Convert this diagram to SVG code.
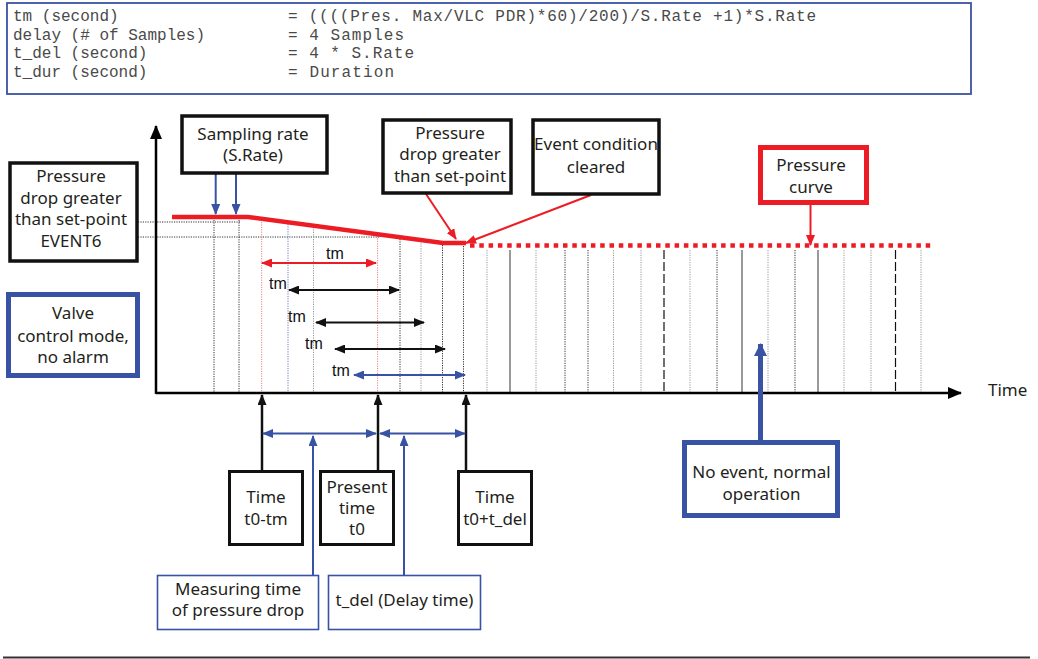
<svg xmlns="http://www.w3.org/2000/svg" width="1038" height="659" viewBox="0 0 1038 659">
<style>
.mono{font-family:"Liberation Mono","Courier New",monospace;font-size:16px;fill:#4a4a4a}
.lbl{font-family:"Noto Sans","Open Sans",sans-serif;font-size:17px;fill:#231f20;text-anchor:middle}
.tm{font-family:"Liberation Sans",Arial,sans-serif;font-size:16px;fill:#111;text-anchor:middle}
.bk{fill:#fff;stroke:#111;stroke-width:3.5}
.bk3{fill:#fff;stroke:#111;stroke-width:3}
.bl5{fill:#fff;stroke:#3953a4;stroke-width:5}
.bl1{fill:#fff;stroke:#3953a4;stroke-width:1.6}
.rd5{fill:#fff;stroke:#ed1c24;stroke-width:5}
.gd{stroke:#999;stroke-width:1;stroke-dasharray:1.2,1.2;fill:none}
.dd{stroke:#333;stroke-width:1;stroke-dasharray:1.2,1.2;fill:none}
.ds{stroke:#555;stroke-width:1.2;fill:none}
.dk{stroke:#111;stroke-width:1.2;stroke-dasharray:9,3;fill:none}
.pk{stroke:#f08080;stroke-width:1;stroke-dasharray:1.2,1.2;fill:none}
.bd{stroke:#6a7cc4;stroke-width:1;stroke-dasharray:1.2,1.2;fill:none}
</style>
<defs>
<marker id="ak" markerUnits="userSpaceOnUse" markerWidth="11" markerHeight="9" refX="10" refY="4.5" orient="auto-start-reverse"><path d="M0,0 L11,4.5 L0,9 z" fill="#111"/></marker>
<marker id="ar" markerUnits="userSpaceOnUse" markerWidth="11" markerHeight="9" refX="10" refY="4.5" orient="auto-start-reverse"><path d="M0,0 L11,4.5 L0,9 z" fill="#ed1c24"/></marker>
<marker id="ab" markerUnits="userSpaceOnUse" markerWidth="11" markerHeight="9" refX="10" refY="4.5" orient="auto-start-reverse"><path d="M0,0 L11,4.5 L0,9 z" fill="#3953a4"/></marker>
<marker id="abB" markerUnits="userSpaceOnUse" markerWidth="13" markerHeight="13" refX="12" refY="6.5" orient="auto"><path d="M0,0 L13,6.5 L0,13 z" fill="#3953a4"/></marker>
<marker id="ax" markerUnits="userSpaceOnUse" markerWidth="14" markerHeight="12" refX="13" refY="6" orient="auto"><path d="M0,0 L14,6 L0,12 z" fill="#000"/></marker>
</defs>

<g id="formula">
<rect x="7" y="3" width="964" height="91" fill="#fff" stroke="#3953a4" stroke-width="1.8"/>
<text class="mono" x="13" y="21">tm (second)</text>
<text class="mono" x="288" y="21" textLength="528" lengthAdjust="spacing">= ((((Pres. Max/VLC PDR)*60)/200)/S.Rate +1)*S.Rate</text>
<text class="mono" x="13" y="39.5">delay (# of Samples)</text>
<text class="mono" x="288" y="39.5" textLength="116" lengthAdjust="spacing">= 4 Samples</text>
<text class="mono" x="13" y="58">t_del (second)</text>
<text class="mono" x="288" y="58" textLength="126" lengthAdjust="spacing">= 4 * S.Rate</text>
<text class="mono" x="13" y="76.5">t_dur (second)</text>
<text class="mono" x="288" y="76.5" textLength="106" lengthAdjust="spacing">= Duration</text>
</g>

<g id="grid">
<line class="dd" x1="138" y1="222" x2="240" y2="222"/>
<line class="dd" x1="138" y1="237" x2="380" y2="237"/>
<line class="dd" x1="214" y1="220" x2="214" y2="392"/>
<line class="dd" x1="239" y1="220" x2="239" y2="392"/>
<line class="pk" x1="261.7" y1="222" x2="261.7" y2="392"/>
<line class="bd" x1="288" y1="224" x2="288" y2="392"/>
<line class="gd" x1="313.5" y1="227" x2="313.5" y2="392"/>
<line class="pk" x1="377.6" y1="236" x2="377.6" y2="392"/>
<line class="dd" x1="400" y1="239" x2="400" y2="392"/>
<line class="gd" x1="421" y1="241" x2="421" y2="392"/>
<line class="dd" x1="442.5" y1="245" x2="442.5" y2="392"/>
<line class="dd" x1="463.5" y1="246" x2="463.5" y2="392"/>
<line class="gd" x1="487" y1="250" x2="487" y2="392"/>
<line class="ds" x1="510" y1="250" x2="510" y2="392"/>
<line class="gd" x1="536" y1="250" x2="536" y2="392"/>
<line class="dd" x1="565" y1="250" x2="565" y2="392"/>
<line class="dd" x1="588" y1="250" x2="588" y2="392"/>
<line class="gd" x1="613.5" y1="250" x2="613.5" y2="392"/>
<line class="gd" x1="641" y1="250" x2="641" y2="392"/>
<line class="dk" x1="664" y1="250" x2="664" y2="392"/>
<line class="gd" x1="690" y1="250" x2="690" y2="392"/>
<line class="dd" x1="717" y1="250" x2="717" y2="392"/>
<line class="ds" x1="742" y1="250" x2="742" y2="392"/>
<line class="gd" x1="768" y1="250" x2="768" y2="392"/>
<line class="dd" x1="795" y1="250" x2="795" y2="392"/>
<line class="ds" x1="818" y1="250" x2="818" y2="392"/>
<line class="gd" x1="844" y1="250" x2="844" y2="392"/>
<line class="gd" x1="871" y1="250" x2="871" y2="392"/>
<line class="dk" x1="895.5" y1="250" x2="895.5" y2="392"/>
<line class="gd" x1="921" y1="250" x2="921" y2="392"/>
</g>

<g id="axes">
<line x1="156" y1="393" x2="961" y2="393" stroke="#000" stroke-width="2.5" marker-end="url(#ax)"/>
<line x1="156" y1="394" x2="156" y2="126" stroke="#000" stroke-width="2.5" marker-end="url(#ax)"/>
<text x="988" y="396" style="font-family:'Noto Sans','Open Sans',sans-serif;font-size:17px;fill:#231f20">Time</text>
</g>

<g id="pressure-curve">
<polyline points="172,217 248,217 443,243 466,243" fill="none" stroke="#ed1c24" stroke-width="4.5"/>
<line x1="470" y1="245.5" x2="934" y2="245.5" stroke="#ed1c24" stroke-width="4.5" stroke-dasharray="4.5,4.8"/>
</g>

<g id="connectors">
<line x1="215.7" y1="174" x2="215.7" y2="214" stroke="#3953a4" stroke-width="2" marker-end="url(#ab)"/>
<line x1="236" y1="174" x2="236" y2="214" stroke="#3953a4" stroke-width="2" marker-end="url(#ab)"/>
<line x1="426" y1="194" x2="456" y2="239" stroke="#ed1c24" stroke-width="2" marker-end="url(#ar)"/>
<line x1="591" y1="195" x2="466" y2="243" stroke="#ed1c24" stroke-width="2" marker-end="url(#ar)"/>
<line x1="810.5" y1="205" x2="810.5" y2="245" stroke="#ed1c24" stroke-width="2" marker-end="url(#ar)"/>
<line x1="760.5" y1="440" x2="760.5" y2="344" stroke="#3953a4" stroke-width="5" marker-end="url(#abB)"/>
<line x1="262" y1="263" x2="376" y2="263" stroke="#ed1c24" stroke-width="2" marker-start="url(#ar)" marker-end="url(#ar)"/>
<line x1="289" y1="290" x2="399" y2="290" stroke="#111" stroke-width="2" marker-start="url(#ak)" marker-end="url(#ak)"/>
<line x1="316" y1="322.5" x2="424" y2="322.5" stroke="#111" stroke-width="2" marker-start="url(#ak)" marker-end="url(#ak)"/>
<line x1="335" y1="349" x2="445" y2="349" stroke="#111" stroke-width="2" marker-start="url(#ak)" marker-end="url(#ak)"/>
<line x1="354" y1="375" x2="465" y2="375" stroke="#3953a4" stroke-width="2" marker-start="url(#ab)" marker-end="url(#ab)"/>
<line x1="262" y1="470" x2="262" y2="395" stroke="#111" stroke-width="2.5" marker-end="url(#ak)"/>
<line x1="378" y1="470" x2="378" y2="395" stroke="#111" stroke-width="2.5" marker-end="url(#ak)"/>
<line x1="466" y1="470" x2="466" y2="395" stroke="#111" stroke-width="2.5" marker-end="url(#ak)"/>
<line x1="263" y1="433.5" x2="376" y2="433.5" stroke="#3953a4" stroke-width="2" marker-start="url(#ab)" marker-end="url(#ab)"/>
<line x1="380" y1="433.5" x2="465" y2="433.5" stroke="#3953a4" stroke-width="2" marker-start="url(#ab)" marker-end="url(#ab)"/>
<line x1="313" y1="575" x2="313" y2="436" stroke="#3953a4" stroke-width="2" marker-end="url(#ab)"/>
<line x1="404" y1="575" x2="404" y2="436" stroke="#3953a4" stroke-width="2" marker-end="url(#ab)"/>
</g>

<g id="tm-labels">
<text class="tm" x="335" y="259">tm</text>
<text class="tm" x="278" y="289">tm</text>
<text class="tm" x="297" y="322">tm</text>
<text class="tm" x="314" y="349">tm</text>
<text class="tm" x="341" y="376">tm</text>
</g>

<g id="node-event6">
<rect class="bk" x="10" y="163" width="127" height="98"/>
<text class="lbl" x="71" y="182">Pressure</text>
<text class="lbl" x="71" y="203.5">drop greater</text>
<text class="lbl" x="71" y="225">than set-point</text>
<text class="lbl" x="71" y="246.5">EVENT6</text>
</g>
<g id="node-sampling">
<rect class="bk" x="182" y="116" width="145" height="57"/>
<text class="lbl" x="253" y="139.5">Sampling rate</text>
<text class="lbl" x="253" y="160.5">(S.Rate)</text>
</g>
<g id="node-pressure-drop">
<rect class="bk" x="383" y="120" width="128" height="73"/>
<text class="lbl" x="450" y="138.5">Pressure</text>
<text class="lbl" x="450" y="160">drop greater</text>
<text class="lbl" x="450" y="181.5">than set-point</text>
</g>
<g id="node-event-cleared">
<rect class="bk" x="533" y="120" width="126" height="74"/>
<text class="lbl" x="596" y="150">Event condition</text>
<text class="lbl" x="596" y="172.5">cleared</text>
</g>
<g id="node-pressure-curve">
<rect class="rd5" x="760.5" y="147.5" width="106" height="55"/>
<text class="lbl" x="811" y="171">Pressure</text>
<text class="lbl" x="811" y="192.5">curve</text>
</g>
<g id="node-valve">
<rect class="bl5" x="8.5" y="294.5" width="129" height="81"/>
<text class="lbl" x="73" y="319">Valve</text>
<text class="lbl" x="73" y="341.5">control mode,</text>
<text class="lbl" x="73" y="363">no alarm</text>
</g>
<g id="node-no-event">
<rect class="bl5" x="684.5" y="442.5" width="153" height="73"/>
<text class="lbl" x="761.5" y="478">No event, normal</text>
<text class="lbl" x="761.5" y="499.5">operation</text>
</g>
<g id="node-t0-tm">
<rect class="bk3" x="229.5" y="471.5" width="73" height="73"/>
<text class="lbl" x="266" y="503">Time</text>
<text class="lbl" x="266" y="525">t0-tm</text>
</g>
<g id="node-present">
<rect class="bk3" x="320.5" y="471.5" width="73" height="73"/>
<text class="lbl" x="357" y="493">Present</text>
<text class="lbl" x="357" y="514">time</text>
<text class="lbl" x="357" y="535">t0</text>
</g>
<g id="node-t0-tdel">
<rect class="bk3" x="458.5" y="471.5" width="73" height="73"/>
<text class="lbl" x="495" y="503">Time</text>
<text class="lbl" x="495" y="525">t0+t_del</text>
</g>
<g id="node-measuring">
<rect class="bl1" x="157.5" y="575.5" width="161" height="54"/>
<text class="lbl" x="238" y="595">Measuring time</text>
<text class="lbl" x="238" y="616">of pressure drop</text>
</g>
<g id="node-tdel">
<rect class="bl1" x="328.5" y="575.5" width="152" height="54"/>
<text class="lbl" x="404.5" y="606">t_del (Delay time)</text>
</g>
<line x1="3" y1="657.5" x2="1030" y2="657.5" stroke="#333" stroke-width="2"/>
</svg>
